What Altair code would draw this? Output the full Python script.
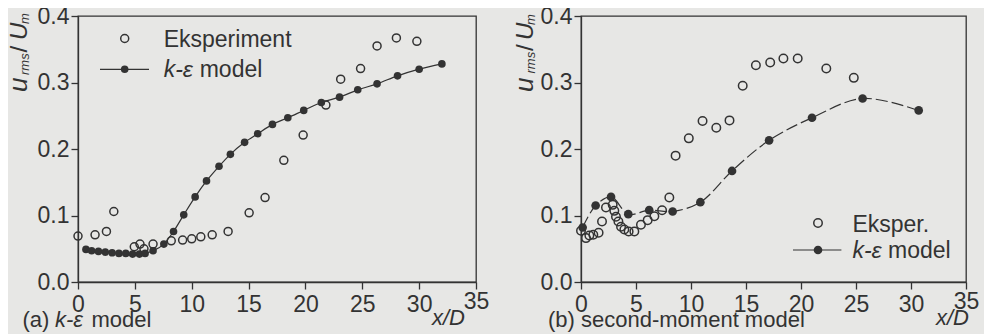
import altair as alt
import pandas as pd

# ---------------- data ----------------
a_exp_x = [0.0, 1.5, 2.5, 3.15, 4.95, 5.45, 5.8, 6.6, 8.2, 9.2, 10.0, 10.8, 11.8, 13.2,
           15.05, 16.45, 18.1, 19.8, 21.8, 23.1, 24.85, 26.3, 28.0, 29.8]
a_exp_y = [0.069, 0.071, 0.076, 0.106, 0.053, 0.057, 0.050, 0.057, 0.062, 0.063, 0.065,
           0.068, 0.071, 0.076, 0.104, 0.127, 0.183, 0.221, 0.266, 0.305, 0.321, 0.355,
           0.367, 0.362]

a_mod_x = [0.7, 1.2, 1.8, 2.4, 3.0, 3.6, 4.2, 4.8, 5.4, 5.9, 6.6, 7.55, 8.4, 9.3, 10.3,
           11.3, 12.4, 13.4, 14.65, 15.8, 17.1, 18.45, 19.85, 21.4, 23.0, 24.6, 26.3,
           28.1, 30.0, 32.0]
a_mod_y = [0.049, 0.047, 0.046, 0.045, 0.044, 0.043, 0.043, 0.042, 0.042, 0.043, 0.047,
           0.057, 0.076, 0.101, 0.128, 0.152, 0.174, 0.192, 0.210, 0.223, 0.237, 0.247,
           0.258, 0.270, 0.278, 0.289, 0.298, 0.310, 0.320, 0.328]

b_exp_x = [0.0, 0.45, 0.76, 1.12, 1.6, 1.91, 2.27, 2.88, 3.03, 3.18, 3.4, 3.64, 3.94,
           4.33, 4.85, 5.45, 6.06, 6.67, 7.37, 8.03, 8.6, 9.8, 11.05, 12.3, 13.5, 14.7,
           15.9, 17.2, 18.4, 19.7, 22.3, 24.8]
b_exp_y = [0.077, 0.066, 0.070, 0.071, 0.074, 0.091, 0.112, 0.116, 0.107, 0.098, 0.091,
           0.083, 0.079, 0.076, 0.076, 0.086, 0.093, 0.099, 0.108, 0.127, 0.190, 0.216,
           0.242, 0.232, 0.243, 0.295, 0.326, 0.330, 0.336, 0.336, 0.321, 0.307]

b_mod_x = [0.15, 1.33, 2.73, 4.3, 6.2, 8.33, 10.85, 13.73, 17.1, 21.0, 25.6, 30.7]
b_mod_y = [0.082, 0.115, 0.128, 0.102, 0.108, 0.106, 0.120, 0.167, 0.213, 0.247, 0.276,
           0.258]

x_ticks = [i * 2.5 for i in range(15)]
y_ticks = [round(i * 0.05, 2) for i in range(9)]

legend_a = ["Eksperiment", "k-ε", "model"]
legend_b = ["Eksper.", "k-ε", "model"]
panel_a_label = ["(a)", "k-ε", "model"]
panel_b_label = "(b) second-moment model"
x_title = "x/D"
y_title = ["u", "rms", "/", "U", "m"]

# ---------------- style ----------------
INK = "#333333"
BG = "#e7e7e5"
FONT = "Liberation Sans"
FS = 23
W_A, W_B, H = 398, 385, 266

one = pd.DataFrame({"k": [0]})


def x_axis():
    return alt.Axis(
        values=x_ticks, title=None, grid=False,
        labelExpr="datum.value % 5 === 0 ? datum.label : ''",
        format="d",
        tickSize={"condition": {"test": "datum.value % 5 === 0", "value": 7}, "value": 4},
        labelPadding={"condition": {"test": "datum.value === 35", "value": 1}, "value": 4},
        labelFont=FONT, labelFontSize=FS, labelColor=INK,
        labelFlush=False, labelOverlap=False,
        domainColor=INK, tickColor=INK, domainWidth=1.3, tickWidth=1.3,
    )


def y_axis():
    return alt.Axis(
        values=y_ticks, title=None, grid=False,
        labelExpr="round(datum.value*20) % 2 === 0 ? format(datum.value, '.1f') : ''",
        tickSize={"condition": {"test": "round(datum.value*20) % 2 === 0", "value": 7},
                  "value": 4},
        labelFont=FONT, labelFontSize=FS, labelColor=INK, labelPadding=2,
        labelFlush=False, labelOverlap=False,
        domainColor=INK, tickColor=INK, domainWidth=1.3, tickWidth=1.3,
    )


def txt(s, x, y, size=FS, italic=False, angle=0, align="left"):
    kw = dict(text=s, font=FONT, fontSize=size, color=INK, align=align,
              baseline="alphabetic", fontStyle="italic" if italic else "normal")
    if angle:
        kw["angle"] = angle
    return alt.Chart(one).mark_text(**kw).encode(x=alt.value(x), y=alt.value(y))


def y_title_marks(xb, ys):
    # rotated y-axis title built from segments (main text + subscripts)
    sizes = [26, 13, 24, 24, 13]
    shift = [0, 2.5, 0, 0, 2.5]
    return [txt(s, xb + sh, y, size=sz, italic=(s != "/"), angle=270)
            for s, y, sz, sh in zip(y_title, ys, sizes, shift)]


def panel(ex, ey, mx, my, dashed):
    xs = alt.Scale(domain=[0, 35], nice=False, zero=False)
    ys = alt.Scale(domain=[0, 0.4], nice=False)
    exp = pd.DataFrame({"x": ex, "y": ey})
    mod = pd.DataFrame({"x": mx, "y": my})
    line_kw = dict(color=INK, strokeWidth=1.2)
    if dashed:
        line_kw.update(strokeDash=[12, 4], interpolate="catmull-rom")
    else:
        line_kw.update(interpolate="monotone")
    line = alt.Chart(mod).mark_line(**line_kw).encode(
        x=alt.X("x:Q", scale=xs, axis=x_axis()),
        y=alt.Y("y:Q", scale=ys, axis=y_axis()))
    dots = alt.Chart(mod).mark_circle(color=INK, opacity=1,
                                      size=75 if dashed else 58).encode(
        x=alt.X("x:Q", scale=xs), y=alt.Y("y:Q", scale=ys))
    circ = alt.Chart(exp).mark_point(shape="circle", filled=False, color=INK, opacity=1,
                                     strokeWidth=1.5, size=72 if dashed else 64).encode(
        x=alt.X("x:Q", scale=xs), y=alt.Y("y:Q", scale=ys))
    return [line, circ, dots]


def legend(cx, cy1, cy2, x1, x2, tx, mx_, labels, big):
    return [
        alt.Chart(one).mark_point(shape="circle", filled=False, color=INK, opacity=1,
                                  strokeWidth=1.5, size=72 if big else 64).encode(
            x=alt.value(cx), y=alt.value(cy1)),
        alt.Chart(one).mark_rule(color=INK, strokeWidth=1.2).encode(
            x=alt.value(x1), x2=alt.value(x2), y=alt.value(cy2)),
        alt.Chart(one).mark_circle(color=INK, opacity=1, size=75 if big else 58).encode(
            x=alt.value(cx), y=alt.value(cy2)),
        txt(labels[0], tx, cy1 + 8.5),
        txt(labels[1], tx, cy2 + 7.5, italic=True),
        txt(labels[2], mx_, cy2 + 7.5),
    ]


PL = 22  # panel label font size

layers_a = panel(a_exp_x, a_exp_y, a_mod_x, a_mod_y, dashed=False)
layers_a += legend(46.7, 22.5, 53.3, 22, 71, 85.7, 121.7, legend_a, big=False)
layers_a += [txt(panel_a_label[0], -55.6, 311, size=PL),
             txt(panel_a_label[1], -23, 311, size=PL, italic=True),
             txt(panel_a_label[2], 13.4, 311, size=PL),
             txt(x_title, 354, 309, size=PL, italic=True)]
layers_a += y_title_marks(-51.5, [76, 59, 36.5, 24, 8])

layers_b = panel(b_exp_x, b_exp_y, b_mod_x, b_mod_y, dashed=True)
layers_b += legend(237, 207, 234, 212, 260.4, 271.4, 307, legend_b, big=True)
layers_b += [txt(panel_b_label, -33, 311, size=PL),
             txt(x_title, 355, 309, size=PL, italic=True)]
layers_b += y_title_marks(-48.5, [76, 57.5, 35, 24, 9])

chart_a = alt.layer(*layers_a).properties(width=W_A, height=H)
chart_b = alt.layer(*layers_b).properties(width=W_B, height=H)

chart = alt.hconcat(chart_a, chart_b, spacing=20).properties(
    padding={"left": -4, "top": -4, "right": 4, "bottom": 2},
    background=BG,
).configure_view(stroke=INK, strokeWidth=1.3)

chart.save("out.html", embed_options={"renderer": "svg", "actions": False})
